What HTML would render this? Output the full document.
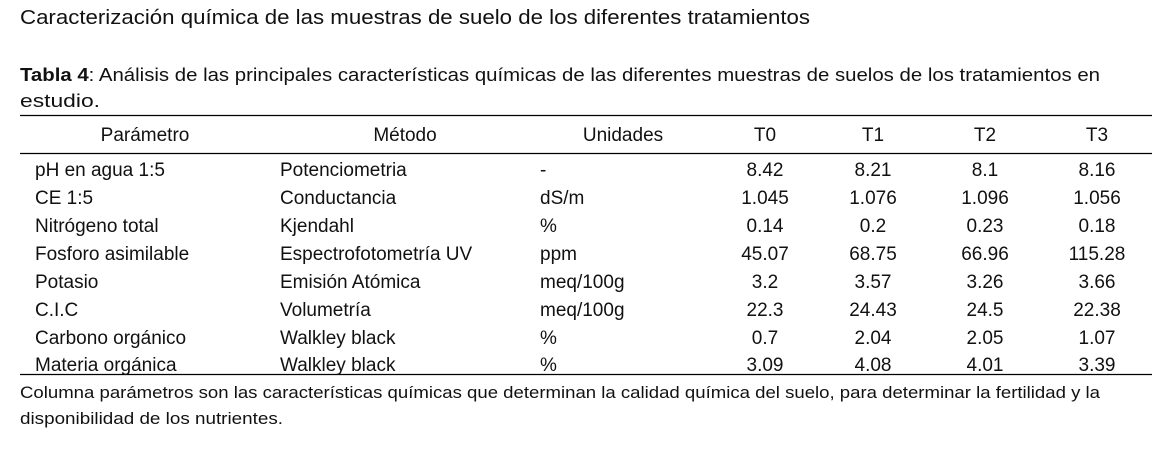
<!DOCTYPE html>
<html><head><meta charset="utf-8"><style>
html,body{margin:0;padding:0;background:#fff;}
svg{display:block}
text{font-family:"Liberation Sans",sans-serif;fill:#111;}
</style></head><body>
<svg width="1168" height="456" viewBox="0 0 1168 456" xmlns="http://www.w3.org/2000/svg">
<text x="20" y="24" font-size="20" textLength="790" lengthAdjust="spacingAndGlyphs">Caracterización química de las muestras de suelo de los diferentes tratamientos</text>
<text x="20" y="81" font-size="18.5" textLength="1080" lengthAdjust="spacingAndGlyphs"><tspan font-weight="bold">Tabla 4</tspan>: Análisis de las principales características químicas de las diferentes muestras de suelos de los tratamientos en</text>
<text x="20" y="107" font-size="18.5" textLength="80" lengthAdjust="spacingAndGlyphs">estudio.</text>
<line x1="20" y1="115.5" x2="1152" y2="115.5" stroke="#000" stroke-width="1.3"/>
<line x1="20" y1="153.5" x2="1152" y2="153.5" stroke="#000" stroke-width="1.3"/>
<line x1="20" y1="374.5" x2="1152" y2="374.5" stroke="#000" stroke-width="1.3"/>
<g font-size="19" text-anchor="middle">
<text x="145" y="141">Parámetro</text>
<text x="405" y="141">Método</text>
<text x="623" y="141">Unidades</text>
<text x="765" y="141">T0</text>
<text x="873" y="141">T1</text>
<text x="985" y="141">T2</text>
<text x="1097" y="141">T3</text>
</g>
<g font-size="19">
<text x="35" y="176">pH en agua 1:5</text><text x="280" y="176">Potenciometria</text><text x="540" y="176">-</text>
<text x="35" y="204">CE 1:5</text><text x="280" y="204">Conductancia</text><text x="540" y="204">dS/m</text>
<text x="35" y="232">Nitrógeno total</text><text x="280" y="232">Kjendahl</text><text x="540" y="232">%</text>
<text x="35" y="260">Fosforo asimilable</text><text x="280" y="260">Espectrofotometría UV</text><text x="540" y="260">ppm</text>
<text x="35" y="288">Potasio</text><text x="280" y="288">Emisión Atómica</text><text x="540" y="288">meq/100g</text>
<text x="35" y="316">C.I.C</text><text x="280" y="316">Volumetría</text><text x="540" y="316">meq/100g</text>
<text x="35" y="344">Carbono orgánico</text><text x="280" y="344">Walkley black</text><text x="540" y="344">%</text>
<text x="35" y="371">Materia orgánica</text><text x="280" y="371">Walkley black</text><text x="540" y="371">%</text>
</g>
<g font-size="19" text-anchor="middle">
<text x="765" y="176">8.42</text><text x="873" y="176">8.21</text><text x="985" y="176">8.1</text><text x="1097" y="176">8.16</text>
<text x="765" y="204">1.045</text><text x="873" y="204">1.076</text><text x="985" y="204">1.096</text><text x="1097" y="204">1.056</text>
<text x="765" y="232">0.14</text><text x="873" y="232">0.2</text><text x="985" y="232">0.23</text><text x="1097" y="232">0.18</text>
<text x="765" y="260">45.07</text><text x="873" y="260">68.75</text><text x="985" y="260">66.96</text><text x="1097" y="260">115.28</text>
<text x="765" y="288">3.2</text><text x="873" y="288">3.57</text><text x="985" y="288">3.26</text><text x="1097" y="288">3.66</text>
<text x="765" y="316">22.3</text><text x="873" y="316">24.43</text><text x="985" y="316">24.5</text><text x="1097" y="316">22.38</text>
<text x="765" y="344">0.7</text><text x="873" y="344">2.04</text><text x="985" y="344">2.05</text><text x="1097" y="344">1.07</text>
<text x="765" y="371">3.09</text><text x="873" y="371">4.08</text><text x="985" y="371">4.01</text><text x="1097" y="371">3.39</text>
</g>
<text x="20" y="398" font-size="16.5" textLength="1080" lengthAdjust="spacingAndGlyphs">Columna parámetros son las características químicas que determinan la calidad química del suelo, para determinar la fertilidad y la</text>
<text x="20" y="424" font-size="16.5" textLength="263" lengthAdjust="spacingAndGlyphs">disponibilidad de los nutrientes.</text>
</svg>
</body></html>
